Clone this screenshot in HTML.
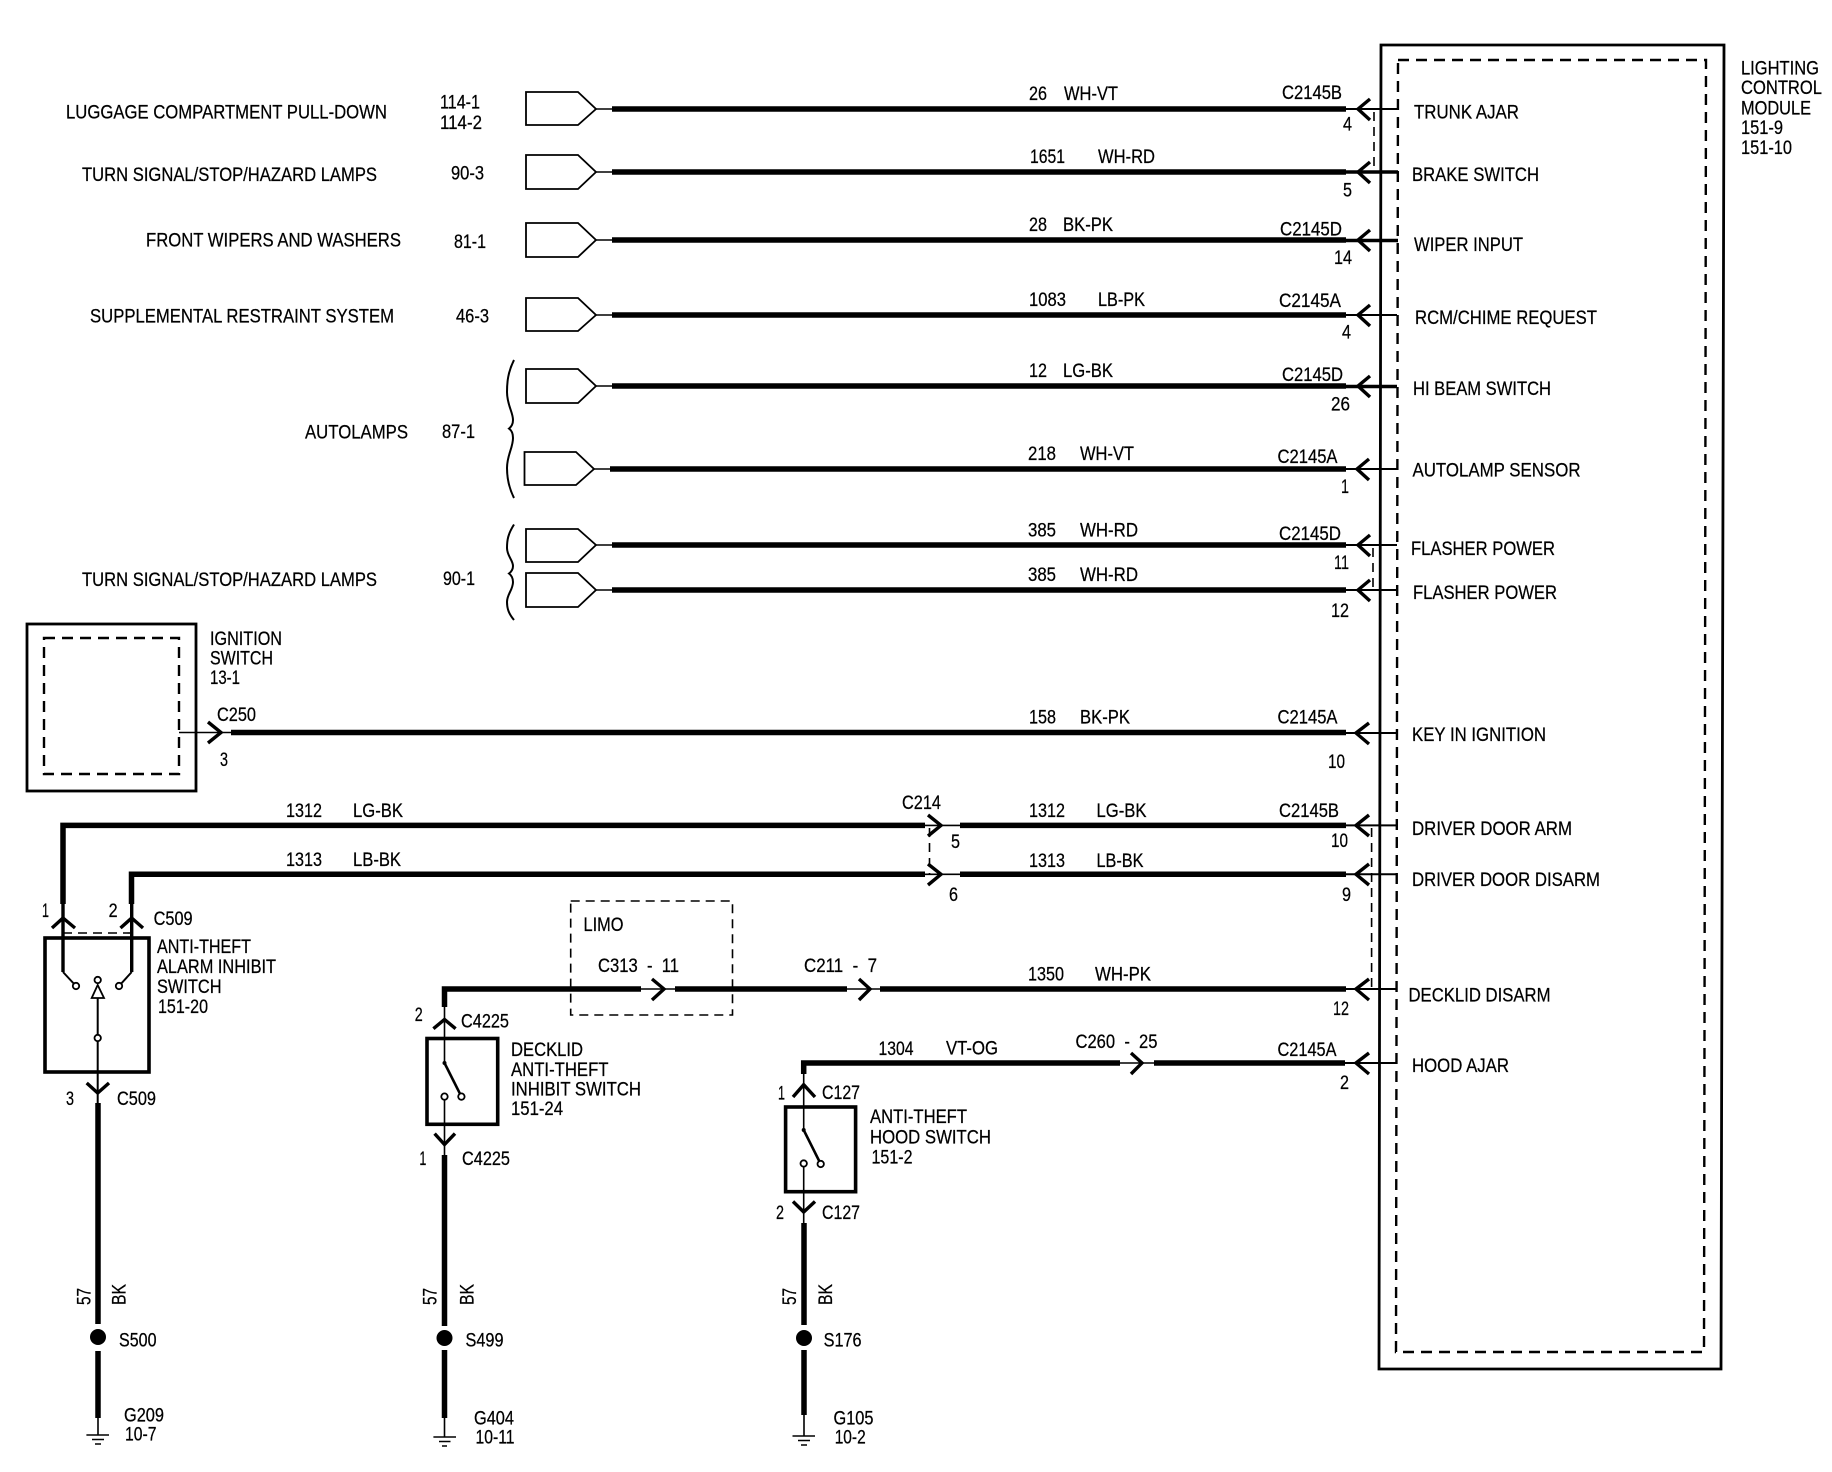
<!DOCTYPE html>
<html lang="en"><head><meta charset="utf-8"><title>Lighting Control Module wiring diagram</title>
<style>
html,body{margin:0;padding:0;background:#fff}
svg{display:block}
text{font-family:"Liberation Sans",sans-serif;font-size:19.5px;fill:#000;stroke:#000;stroke-width:.25}
.w{stroke:#000;stroke-width:5.5;fill:none}
.t{stroke:#000;stroke-width:1.6;fill:none}
.t2{stroke:#000;stroke-width:2;fill:none}
.bl{stroke:#000;stroke-width:2.6;fill:none}
.m{stroke:#000;stroke-width:3.4;fill:none}
.b{stroke:#000;stroke-width:2.8;fill:none}
.d{stroke:#000;stroke-width:2.4;fill:none;stroke-dasharray:11 7}
.d2{stroke:#000;stroke-width:1.6;fill:none;stroke-dasharray:9 6}
.p{stroke:#000;stroke-width:1.8;fill:#fff}
.s{stroke:#000;stroke-width:3.6;fill:none}
.c{stroke:#000;stroke-width:1.8;fill:#fff}
</style></head><body>
<svg xmlns="http://www.w3.org/2000/svg" width="1832" height="1472" viewBox="0 0 1832 1472">
<rect width="1832" height="1472" fill="#fff"/>

<!-- module -->
<path class="b" d="M1381 45H1724L1721 1369H1379Z"/>
<path class="d" d="M1398 60H1706L1704 1352H1396Z"/>

<!-- pin shapes -->
<path class="p" d="M526 92H578L596 109L578 125H526Z"/>
<path class="p" d="M526 155H578L596 172L578 189H526Z"/>
<path class="p" d="M526 223H578L596 240L578 257H526Z"/>
<path class="p" d="M526 298H578L596 315L578 331H526Z"/>
<path class="p" d="M526 369H578L596 386L578 403H526Z"/>
<path class="p" d="M524.5 452H576L594 469L576 485H524.5Z"/>
<path class="p" d="M526 529H578L596 545L578 562H526Z"/>
<path class="p" d="M526 573H578L596 590L578 607H526Z"/>
<path class="t" d="M596 109H612M596 172H612M596 240H612M596 315H612M596 386H612M594 469H610M596 545H612M596 590H612"/>

<!-- braces -->
<path class="t2" d="M514 360C508 372 507 382 507 392C507 405 513 412 513 420C513 424 511 427 509 428.6C511 430 513 433 513 438C513 448 507 455 507 468C507 478 509 488 514 498"/>
<path class="t2" d="M514 524.5C508 534 507 540 507 548C507 556 513 560 513 566C513 570 511 572 509 573.5C511 575 513 578 513 582C513 590 507 594 507 602C507 609 509 614 514 620"/>

<!-- main thick wires -->
<path class="w" d="M612 109H1346M612 172H1346M612 240H1346M612 315H1346M612 386H1346M610 469H1346M612 545H1346M612 590H1346"/>
<path class="w" d="M231 732.5H1346"/>
<path class="w" d="M63 904V825.4H925M960 825.4H1346"/>
<path class="w" d="M131.5 904V874.3H925M960 874.3H1346"/>
<path class="w" d="M444.5 1007V989H641M675 989H847M880 989H1346"/>
<path class="w" d="M803.7 1074V1063H1120M1154 1063H1345"/>

<!-- thin stubs to module -->
<path class="t2" d="M1346 109H1398M1346 315H1397M1346 469H1397M1346 545H1397M1346 733H1396M1346 825.4H1396M1346 874.3H1396M1346 989H1396M1345 1063H1396M1346 590H1397"/>
<path class="m" d="M1346 172H1398M1346 240.5H1398M1346 386.5H1397"/>

<!-- row arrowheads -->
<path class="m" d="M1370 99L1358 109L1370 120M1370 162L1358 172L1370 183M1370 230L1358 240L1370 251M1370 305L1358 315L1370 326M1370 376L1358 386L1370 397M1369 459L1357 469L1369 480M1370 535L1358 545L1370 556M1370 580L1358 590L1370 601"/>
<path class="m" d="M1369 723L1356 733L1369 744M1369 815L1356 825.4L1369 836M1369 864L1356 874.3L1369 885M1369 979L1356 989L1369 1000M1369 1053L1356 1063L1369 1074"/>

<!-- internal dashed -->
<path class="d2" d="M1374 112V172M1373 548V590M1371.6 828V989M929.5 828V874"/>

<!-- ignition -->
<rect class="b" x="27" y="624" width="169" height="167"/>
<rect class="d" x="44" y="638" width="135" height="136"/>
<path class="t" d="M179 732.5H231"/>
<path class="m" d="M208 722L221 732.5L208 743"/>

<!-- inline connectors -->
<path class="t" d="M925 825.4H960M925 874.3H960M641 989H675M847 989H880M1120 1063H1154"/>
<path class="m" d="M928 815L941 825.4L928 836M928 864L941 874.3L928 885M652 979L664 989L652 1000M859 979L870 989L859 1000M1131 1053L1142 1063L1131 1074"/>

<!-- LIMO -->
<rect class="d2" x="570.7" y="901" width="161.8" height="114"/>

<!-- anti-theft alarm switch -->
<rect class="s" x="45" y="938" width="104" height="134"/>
<path class="m" d="M63 904V972M131.7 904V972"/>
<path class="t2" d="M63 972L76 986M131.7 972L119 986"/>
<path class="m" d="M52 928L63 918L75 928M120.5 928L131.7 918L143 928"/>
<path class="d2" d="M63 933H131"/>
<circle class="c" cx="76" cy="986" r="3.2"/><circle class="c" cx="119" cy="986" r="3.2"/>
<circle class="c" cx="97.7" cy="980" r="3.2"/>
<path class="p" d="M97.7 985L104 998H91.7Z"/>
<path class="t2" d="M97.7 998V1103"/>
<circle class="c" cx="97.7" cy="1038" r="3.2"/>
<path class="m" d="M86.7 1083L97.7 1093L109 1083"/>
<path class="w" stroke-width="6" d="M98 1103V1324M98 1351V1418"/>
<circle cx="98" cy="1337" r="8"/>
<path class="t" d="M98 1418V1435M86.4 1435H109M92 1439.5H104M95 1444H101"/>

<!-- decklid switch -->
<rect class="s" x="427" y="1038.5" width="70.7" height="85.8"/>
<path class="t" d="M444.5 1007V1063M444.5 1096.6V1155"/>
<path class="bl" d="M444.5 1063L461.4 1096.6"/>
<circle cx="444.5" cy="1063" r="2"/>
<circle class="c" cx="461.4" cy="1096.6" r="3.2"/><circle class="c" cx="444.5" cy="1096.6" r="3.2"/>
<path class="m" d="M433.4 1028.7L444.5 1019.5L455.6 1028.7M434.6 1133.6L444.5 1144.5L455 1133.6"/>
<path class="w" d="M444.5 1155V1326M444.5 1350V1418"/>
<circle cx="444.5" cy="1338" r="8"/>
<path class="t" d="M444.5 1418V1437M433.4 1437H456M439 1441.5H450.5M442 1446H447"/>

<!-- hood switch -->
<rect class="s" x="785.6" y="1107" width="70" height="84.7"/>
<path class="t" d="M803.7 1074V1130M803.7 1163.5V1223"/>
<path class="bl" d="M803.7 1130L820.7 1164"/>
<circle cx="803.7" cy="1130" r="2"/>
<circle class="c" cx="820.7" cy="1164" r="3.2"/><circle class="c" cx="803.7" cy="1163.5" r="3.2"/>
<path class="m" d="M793 1097L803.7 1084.7L815 1097M793 1201.5L803.7 1212L815 1201.5"/>
<path class="w" stroke-width="6" d="M804 1223V1325M804 1350V1415"/>
<circle cx="804" cy="1338" r="8"/>
<path class="t" d="M804 1415V1436M792.5 1436H815M798 1440.5H810M801 1445H807"/>

<g transform="translate(0 -1)">
<!-- left labels -->
<text x="66" y="119.6" textLength="321" lengthAdjust="spacingAndGlyphs">LUGGAGE COMPARTMENT PULL-DOWN</text>
<text x="440" y="109.4" textLength="40" lengthAdjust="spacingAndGlyphs">114-1</text>
<text x="440" y="130" textLength="42" lengthAdjust="spacingAndGlyphs">114-2</text>
<text x="82" y="182" textLength="295" lengthAdjust="spacingAndGlyphs">TURN SIGNAL/STOP/HAZARD LAMPS</text>
<text x="451" y="180.4" textLength="33" lengthAdjust="spacingAndGlyphs">90-3</text>
<text x="146" y="247.3" textLength="255" lengthAdjust="spacingAndGlyphs">FRONT WIPERS AND WASHERS</text>
<text x="454" y="249" textLength="32" lengthAdjust="spacingAndGlyphs">81-1</text>
<text x="90" y="323.7" textLength="304" lengthAdjust="spacingAndGlyphs">SUPPLEMENTAL RESTRAINT SYSTEM</text>
<text x="456" y="323.7" textLength="33" lengthAdjust="spacingAndGlyphs">46-3</text>
<text x="305" y="439.6" textLength="103" lengthAdjust="spacingAndGlyphs">AUTOLAMPS</text>
<text x="442" y="439" textLength="33" lengthAdjust="spacingAndGlyphs">87-1</text>
<text x="82" y="587" textLength="295" lengthAdjust="spacingAndGlyphs">TURN SIGNAL/STOP/HAZARD LAMPS</text>
<text x="443" y="586" textLength="32" lengthAdjust="spacingAndGlyphs">90-1</text>

<!-- wire labels -->
<text x="1029" y="100.8" textLength="18" lengthAdjust="spacingAndGlyphs">26</text>
<text x="1064" y="100.8" textLength="54" lengthAdjust="spacingAndGlyphs">WH-VT</text>
<text x="1282" y="100" textLength="60" lengthAdjust="spacingAndGlyphs">C2145B</text>
<text x="1343" y="131.4" textLength="9" lengthAdjust="spacingAndGlyphs">4</text>
<text x="1030" y="164" textLength="35" lengthAdjust="spacingAndGlyphs">1651</text>
<text x="1098" y="164" textLength="57" lengthAdjust="spacingAndGlyphs">WH-RD</text>
<text x="1343" y="197.5" textLength="9" lengthAdjust="spacingAndGlyphs">5</text>
<text x="1029" y="232" textLength="18" lengthAdjust="spacingAndGlyphs">28</text>
<text x="1063" y="232" textLength="50" lengthAdjust="spacingAndGlyphs">BK-PK</text>
<text x="1280" y="236.5" textLength="62" lengthAdjust="spacingAndGlyphs">C2145D</text>
<text x="1334" y="265" textLength="18" lengthAdjust="spacingAndGlyphs">14</text>
<text x="1029" y="307" textLength="37" lengthAdjust="spacingAndGlyphs">1083</text>
<text x="1098" y="307" textLength="47" lengthAdjust="spacingAndGlyphs">LB-PK</text>
<text x="1279" y="308" textLength="62" lengthAdjust="spacingAndGlyphs">C2145A</text>
<text x="1342" y="339.6" textLength="9" lengthAdjust="spacingAndGlyphs">4</text>
<text x="1029" y="378" textLength="18" lengthAdjust="spacingAndGlyphs">12</text>
<text x="1063" y="378" textLength="50" lengthAdjust="spacingAndGlyphs">LG-BK</text>
<text x="1282" y="382" textLength="61" lengthAdjust="spacingAndGlyphs">C2145D</text>
<text x="1331" y="411.4" textLength="19" lengthAdjust="spacingAndGlyphs">26</text>
<text x="1028" y="461" textLength="28" lengthAdjust="spacingAndGlyphs">218</text>
<text x="1080" y="461" textLength="54" lengthAdjust="spacingAndGlyphs">WH-VT</text>
<text x="1277.5" y="464" textLength="60" lengthAdjust="spacingAndGlyphs">C2145A</text>
<text x="1341" y="494" textLength="8" lengthAdjust="spacingAndGlyphs">1</text>
<text x="1028" y="537.5" textLength="28" lengthAdjust="spacingAndGlyphs">385</text>
<text x="1080" y="537.5" textLength="58" lengthAdjust="spacingAndGlyphs">WH-RD</text>
<text x="1279" y="541" textLength="62" lengthAdjust="spacingAndGlyphs">C2145D</text>
<text x="1334" y="570" textLength="15" lengthAdjust="spacingAndGlyphs">11</text>
<text x="1028" y="582" textLength="28" lengthAdjust="spacingAndGlyphs">385</text>
<text x="1080" y="582" textLength="58" lengthAdjust="spacingAndGlyphs">WH-RD</text>
<text x="1331" y="618" textLength="18" lengthAdjust="spacingAndGlyphs">12</text>

<text x="1029" y="724.3" textLength="27" lengthAdjust="spacingAndGlyphs">158</text>
<text x="1080" y="724.3" textLength="50" lengthAdjust="spacingAndGlyphs">BK-PK</text>
<text x="1277.5" y="724.3" textLength="60" lengthAdjust="spacingAndGlyphs">C2145A</text>
<text x="1328" y="769" textLength="17" lengthAdjust="spacingAndGlyphs">10</text>
<text x="902" y="810" textLength="39" lengthAdjust="spacingAndGlyphs">C214</text>
<text x="951" y="849" textLength="9" lengthAdjust="spacingAndGlyphs">5</text>
<text x="949" y="902" textLength="9" lengthAdjust="spacingAndGlyphs">6</text>
<text x="1029" y="818" textLength="36" lengthAdjust="spacingAndGlyphs">1312</text>
<text x="1096.5" y="818" textLength="50" lengthAdjust="spacingAndGlyphs">LG-BK</text>
<text x="1279" y="818" textLength="60" lengthAdjust="spacingAndGlyphs">C2145B</text>
<text x="1331" y="848" textLength="17" lengthAdjust="spacingAndGlyphs">10</text>
<text x="1029" y="868" textLength="36" lengthAdjust="spacingAndGlyphs">1313</text>
<text x="1096.5" y="868" textLength="47" lengthAdjust="spacingAndGlyphs">LB-BK</text>
<text x="1342" y="902" textLength="9" lengthAdjust="spacingAndGlyphs">9</text>
<text x="1028" y="981.4" textLength="36" lengthAdjust="spacingAndGlyphs">1350</text>
<text x="1095" y="981.4" textLength="56" lengthAdjust="spacingAndGlyphs">WH-PK</text>
<text x="1333" y="1016" textLength="16" lengthAdjust="spacingAndGlyphs">12</text>
<text x="878.5" y="1056" textLength="35" lengthAdjust="spacingAndGlyphs">1304</text>
<text x="946" y="1055.5" textLength="52" lengthAdjust="spacingAndGlyphs">VT-OG</text>
<text x="1075.5" y="1049" textLength="82" lengthAdjust="spacingAndGlyphs" xml:space="preserve">C260  -  25</text>
<text x="1277.5" y="1057" textLength="59" lengthAdjust="spacingAndGlyphs">C2145A</text>
<text x="1340" y="1090" textLength="9" lengthAdjust="spacingAndGlyphs">2</text>
<text x="286" y="818" textLength="36" lengthAdjust="spacingAndGlyphs">1312</text>
<text x="353" y="818" textLength="50" lengthAdjust="spacingAndGlyphs">LG-BK</text>
<text x="286" y="867" textLength="36" lengthAdjust="spacingAndGlyphs">1313</text>
<text x="353" y="867" textLength="48" lengthAdjust="spacingAndGlyphs">LB-BK</text>

<!-- module pin labels -->
<text x="1414" y="119.6" textLength="105" lengthAdjust="spacingAndGlyphs">TRUNK AJAR</text>
<text x="1412" y="182" textLength="127" lengthAdjust="spacingAndGlyphs">BRAKE SWITCH</text>
<text x="1414" y="252" textLength="109" lengthAdjust="spacingAndGlyphs">WIPER INPUT</text>
<text x="1415" y="325" textLength="182" lengthAdjust="spacingAndGlyphs">RCM/CHIME REQUEST</text>
<text x="1413" y="396" textLength="138" lengthAdjust="spacingAndGlyphs">HI BEAM SWITCH</text>
<text x="1412.5" y="477.5" textLength="168" lengthAdjust="spacingAndGlyphs">AUTOLAMP SENSOR</text>
<text x="1411" y="556" textLength="144" lengthAdjust="spacingAndGlyphs">FLASHER POWER</text>
<text x="1413" y="600" textLength="144" lengthAdjust="spacingAndGlyphs">FLASHER POWER</text>
<text x="1412" y="742" textLength="134" lengthAdjust="spacingAndGlyphs">KEY IN IGNITION</text>
<text x="1412" y="836" textLength="160" lengthAdjust="spacingAndGlyphs">DRIVER DOOR ARM</text>
<text x="1412" y="887" textLength="188" lengthAdjust="spacingAndGlyphs">DRIVER DOOR DISARM</text>
<text x="1408.5" y="1002.6" textLength="142" lengthAdjust="spacingAndGlyphs">DECKLID DISARM</text>
<text x="1412" y="1073" textLength="97" lengthAdjust="spacingAndGlyphs">HOOD AJAR</text>

<text x="1741" y="75.5" textLength="78" lengthAdjust="spacingAndGlyphs">LIGHTING</text>
<text x="1741" y="95" textLength="81" lengthAdjust="spacingAndGlyphs">CONTROL</text>
<text x="1741" y="115.5" textLength="70" lengthAdjust="spacingAndGlyphs">MODULE</text>
<text x="1741" y="135" textLength="42" lengthAdjust="spacingAndGlyphs">151-9</text>
<text x="1741" y="155" textLength="51" lengthAdjust="spacingAndGlyphs">151-10</text>

<!-- ignition labels -->
<text x="210" y="646" textLength="72" lengthAdjust="spacingAndGlyphs">IGNITION</text>
<text x="210" y="665.7" textLength="63" lengthAdjust="spacingAndGlyphs">SWITCH</text>
<text x="210" y="685" textLength="30" lengthAdjust="spacingAndGlyphs">13-1</text>
<text x="217" y="722" textLength="39" lengthAdjust="spacingAndGlyphs">C250</text>
<text x="220" y="767" textLength="8" lengthAdjust="spacingAndGlyphs">3</text>

<!-- alarm switch labels -->
<text x="42" y="918" textLength="7" lengthAdjust="spacingAndGlyphs">1</text>
<text x="108.6" y="918" textLength="9" lengthAdjust="spacingAndGlyphs">2</text>
<text x="153.6" y="926" textLength="39" lengthAdjust="spacingAndGlyphs">C509</text>
<text x="157" y="954" textLength="94" lengthAdjust="spacingAndGlyphs">ANTI-THEFT</text>
<text x="157" y="974" textLength="119" lengthAdjust="spacingAndGlyphs">ALARM INHIBIT</text>
<text x="157" y="994" textLength="64.5" lengthAdjust="spacingAndGlyphs">SWITCH</text>
<text x="158" y="1014" textLength="50" lengthAdjust="spacingAndGlyphs">151-20</text>
<text x="66" y="1106" textLength="8" lengthAdjust="spacingAndGlyphs">3</text>
<text x="117" y="1106" textLength="39" lengthAdjust="spacingAndGlyphs">C509</text>

<!-- decklid labels -->
<text x="414.7" y="1022" textLength="8" lengthAdjust="spacingAndGlyphs">2</text>
<text x="461" y="1028.7" textLength="48" lengthAdjust="spacingAndGlyphs">C4225</text>
<text x="511" y="1057" textLength="72" lengthAdjust="spacingAndGlyphs">DECKLID</text>
<text x="511" y="1077" textLength="97.5" lengthAdjust="spacingAndGlyphs">ANTI-THEFT</text>
<text x="511" y="1096.6" textLength="130" lengthAdjust="spacingAndGlyphs">INHIBIT SWITCH</text>
<text x="511" y="1116" textLength="52" lengthAdjust="spacingAndGlyphs">151-24</text>
<text x="419.4" y="1166" textLength="7" lengthAdjust="spacingAndGlyphs">1</text>
<text x="462" y="1166" textLength="48" lengthAdjust="spacingAndGlyphs">C4225</text>

<!-- limo labels -->
<text x="583.5" y="932" textLength="40" lengthAdjust="spacingAndGlyphs">LIMO</text>
<text x="598" y="973" textLength="81" lengthAdjust="spacingAndGlyphs" xml:space="preserve">C313  -  11</text>
<text x="804" y="973" textLength="73" lengthAdjust="spacingAndGlyphs" xml:space="preserve">C211  -  7</text>

<!-- hood labels -->
<text x="778" y="1100.4" textLength="7" lengthAdjust="spacingAndGlyphs">1</text>
<text x="822" y="1100" textLength="38" lengthAdjust="spacingAndGlyphs">C127</text>
<text x="870" y="1124" textLength="97" lengthAdjust="spacingAndGlyphs">ANTI-THEFT</text>
<text x="870" y="1144.5" textLength="121" lengthAdjust="spacingAndGlyphs">HOOD SWITCH</text>
<text x="871.5" y="1164.6" textLength="41" lengthAdjust="spacingAndGlyphs">151-2</text>
<text x="776" y="1220" textLength="8" lengthAdjust="spacingAndGlyphs">2</text>
<text x="822" y="1220" textLength="38" lengthAdjust="spacingAndGlyphs">C127</text>

<!-- vertical wire labels -->
<text transform="translate(90.5 1306) rotate(-90)" textLength="17" lengthAdjust="spacingAndGlyphs">57</text>
<text transform="translate(125.5 1306) rotate(-90)" textLength="21" lengthAdjust="spacingAndGlyphs">BK</text>
<text transform="translate(436.5 1306) rotate(-90)" textLength="17" lengthAdjust="spacingAndGlyphs">57</text>
<text transform="translate(473.5 1306) rotate(-90)" textLength="21" lengthAdjust="spacingAndGlyphs">BK</text>
<text transform="translate(796 1306) rotate(-90)" textLength="17" lengthAdjust="spacingAndGlyphs">57</text>
<text transform="translate(832 1306) rotate(-90)" textLength="21" lengthAdjust="spacingAndGlyphs">BK</text>

<!-- splices and grounds -->
<text x="119" y="1347.7" textLength="37.5" lengthAdjust="spacingAndGlyphs">S500</text>
<text x="465.5" y="1347.7" textLength="38" lengthAdjust="spacingAndGlyphs">S499</text>
<text x="823.6" y="1347.7" textLength="38" lengthAdjust="spacingAndGlyphs">S176</text>
<text x="124" y="1422.7" textLength="40" lengthAdjust="spacingAndGlyphs">G209</text>
<text x="125" y="1441.7" textLength="31.5" lengthAdjust="spacingAndGlyphs">10-7</text>
<text x="474" y="1425.4" textLength="40" lengthAdjust="spacingAndGlyphs">G404</text>
<text x="475.5" y="1444.4" textLength="39" lengthAdjust="spacingAndGlyphs">10-11</text>
<text x="833.5" y="1425.4" textLength="40" lengthAdjust="spacingAndGlyphs">G105</text>
<text x="834.7" y="1444.4" textLength="31" lengthAdjust="spacingAndGlyphs">10-2</text>
</g>
</svg>
</body></html>
